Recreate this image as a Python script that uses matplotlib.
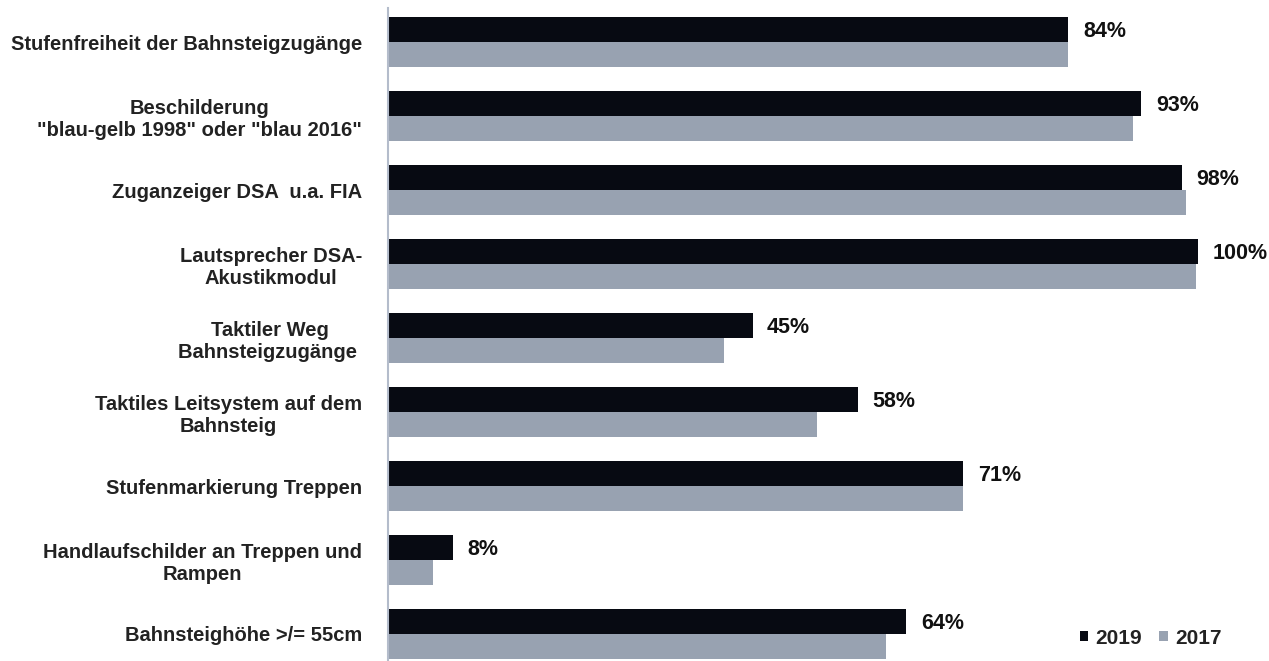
import matplotlib.pyplot as plt
import numpy as np

categories = [
    "Stufenfreiheit der Bahnsteigzugänge",
    "Beschilderung\n\"blau-gelb 1998\" oder \"blau 2016\"",
    "Zuganzeiger DSA  u.a. FIA",
    "Lautsprecher DSA-\nAkustikmodul",
    "Taktiler Weg\nBahnsteigzugänge ",
    "Taktiles Leitsystem auf dem\nBahnsteig",
    "Stufenmarkierung Treppen",
    "Handlaufschilder an Treppen und\nRampen",
    "Bahnsteighöhe >/= 55cm",
]
values_2019 = [84, 93, 98, 100, 45, 58, 71, 8, 64]
values_2017 = [84, 92, 98.5, 99.8, 41.5, 53, 71, 5.5, 61.5]

plt.rcParams['font.family'] = ['Liberation Sans', 'DejaVu Sans']

fig = plt.figure(figsize=(12.69, 6.61), dpi=100)
ax = fig.add_axes([388 / 1269, 0, 1 - 388 / 1269, 1 - 8 / 661])

y = np.arange(len(categories))
h = 0.338
ax.barh(y - h / 2, values_2019, height=h, color='#070a12', label='2019')
ax.barh(y + h / 2, values_2017, height=h, color='#98a2b1', label='2017')

# percent labels next to the 2019 bars
for yi, v in zip(y, values_2019):
    ax.text(v + 1.8, yi - h / 2 + 0.03, f"{v:.0f}%", va='center', ha='left',
            fontsize=15.5, fontweight='bold', color='#111111')

ax.set_xlim(0, (1269 - 388) / 8.1)
ax.set_ylim(len(categories) - 1 + 0.365, -0.46)

ax.set_yticks(y)
ax.set_yticklabels(categories, fontsize=14.5, fontweight='bold', multialignment='center',
                   color='#222222', linespacing=1.2)
ax.tick_params(axis='y', length=0, pad=18.5)
ax.set_xticks([])

for s in ['top', 'right', 'bottom']:
    ax.spines[s].set_visible(False)
ax.spines['left'].set_color('#b4bccb')
ax.spines['left'].set_linewidth(1.5)

leg = ax.legend(loc='center right', bbox_to_anchor=(1232 / 1269, 23 / 661),
                bbox_transform=fig.transFigure, ncol=2, frameon=False, borderpad=0,
                prop={'size': 15, 'weight': 'bold'}, handlelength=0.42, handleheight=0.42,
                handletextpad=0.35, columnspacing=0.8)
for t in leg.get_texts():
    t.set_color('#222222')

plt.savefig('out.png', dpi=100)
